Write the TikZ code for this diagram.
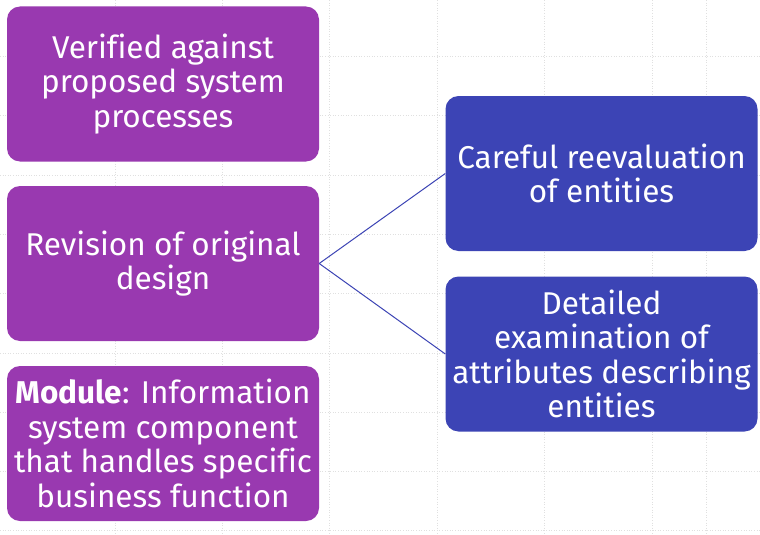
\documentclass[tikz,border=0pt]{standalone}
\usepackage{fontspec}
\setmainfont[Ligatures=NoCommon]{Fira Sans}
\definecolor{boxpurple}{HTML}{9939B0}
\definecolor{boxblue}{HTML}{3C44B5}
\definecolor{gridgray}{HTML}{E0E0E0}
\begin{document}
\begin{tikzpicture}[x=1pt,y=-1pt,
  card/.style={rounded corners=13pt, minimum width=312pt, minimum height=155pt,
    text=white, align=center, inner sep=0pt,
    font=\fontsize{31.5}{34.5}\selectfont},
  pcard/.style={card, fill=boxpurple},
  bcard/.style={card, fill=boxblue},
  link/.style={draw=boxblue, line width=1pt},
  gridline/.style={draw=gridgray, line width=0.6pt, dotted}]
\useasboundingbox (0,0) rectangle (760,535);
\fill[white] (0,0) rectangle (760,535);
\foreach \gx in {115,222,329,437,544,652,706}
  \draw[gridline] (\gx,0) -- (\gx,535);
\foreach \gy in {56,115,175,234,293,353,412,471,530}
  \draw[gridline] (0,\gy) -- (760,\gy);
\node[pcard] (p1) at (163,84) {Verified against\\proposed system\\processes};
\node[pcard] (p2) at (163,263.5) {Revision of original\\design};
\node[pcard] (p3) at (163,443.5) {\textbf{Module}: Information\\system component\\that handles specific\\business function};
\node[bcard] (b1) at (601.5,173.5) {Careful reevaluation\\of entities};
\node[bcard] (b2) at (601.5,354) {Detailed\\examination of\\attributes describing\\entities};
\draw[link] (p2.east) -- (b1.west);
\draw[link] (p2.east) -- (b2.west);
\end{tikzpicture}
\end{document}
